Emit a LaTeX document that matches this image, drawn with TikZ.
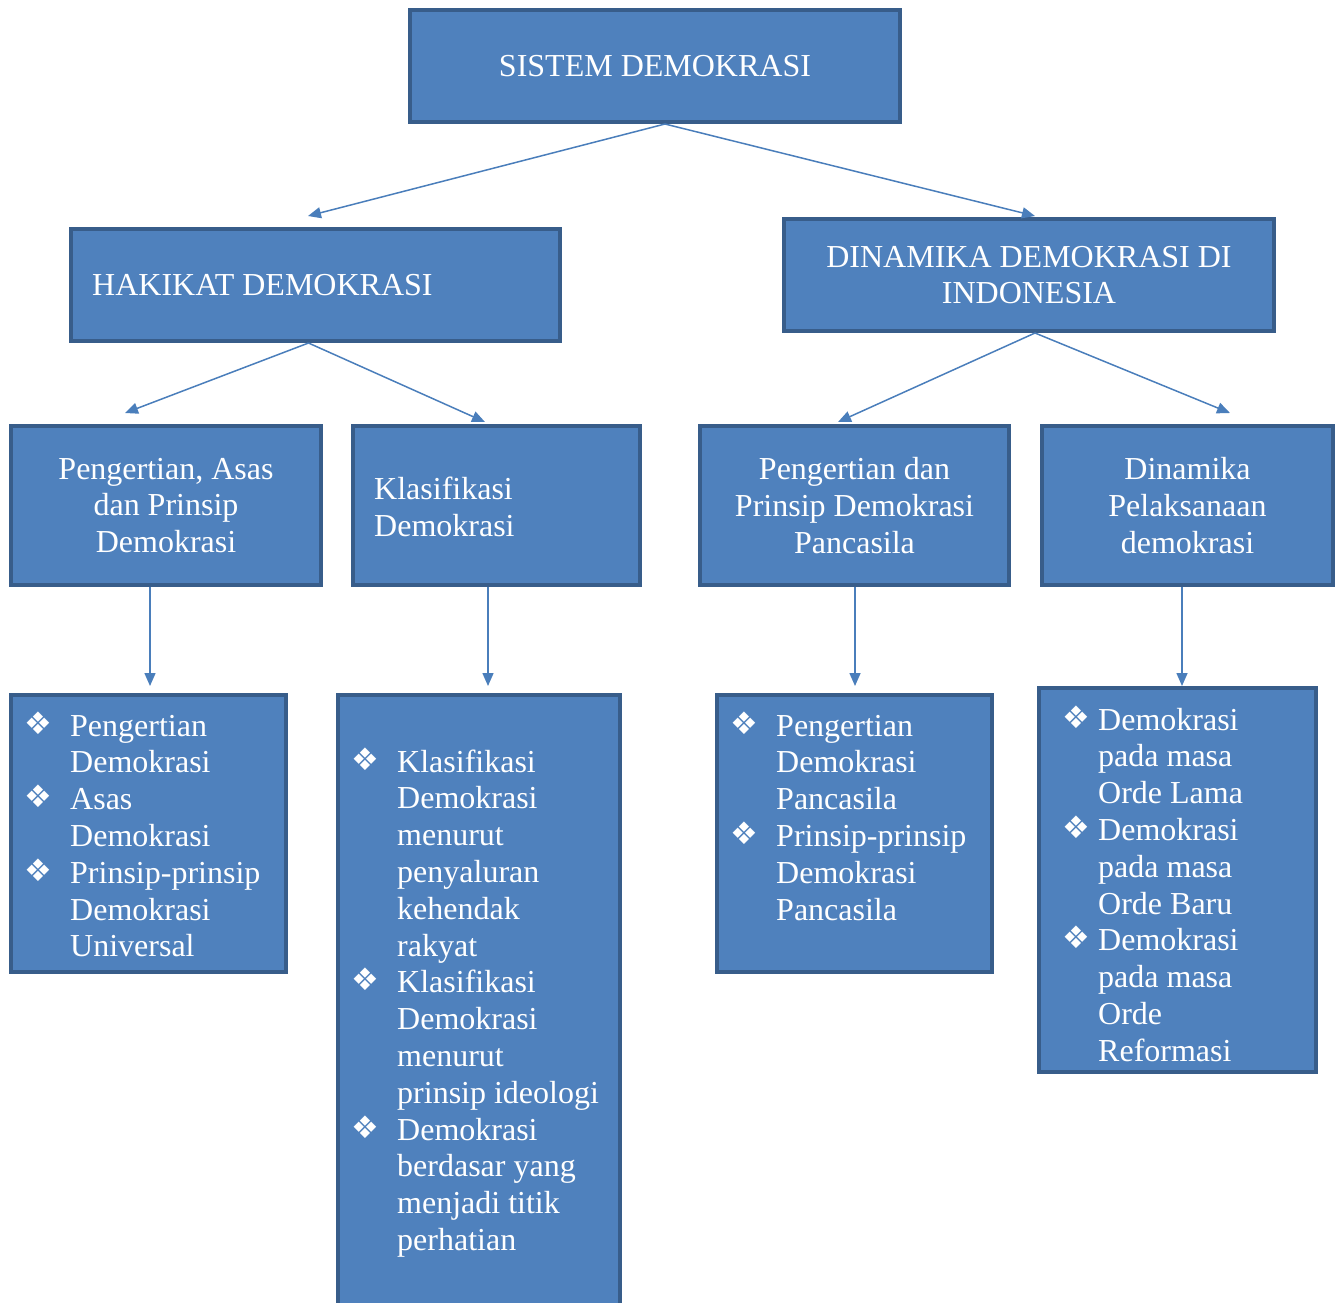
\documentclass[tikz,border=0pt]{standalone}
\usepackage{fontspec}
\setmainfont{Liberation Serif}
\newfontfamily\bulf{DejaVu Sans}
\usetikzlibrary{arrows.meta,calc}
\definecolor{boxc}{HTML}{4F81BD}
\definecolor{bordc}{HTML}{385D8A}
\definecolor{arrc}{HTML}{4A7EBB}
\newcommand\txtsz{\fontsize{32}{36.8}\selectfont}
\newcommand\bul{\raisebox{2pt}{\bulf\fontsize{31}{31}\selectfont ❖}}
\begin{document}
\begin{tikzpicture}[x=1pt,y=-1pt,
 box/.style={draw=bordc, fill=boxc, line width=3.8pt, inner sep=0pt, text=white, font=\txtsz, align=center},
 arr/.style={draw=arrc, line width=1.5pt, -{Triangle[length=13pt,width=11pt]}},
 lt/.style={text=white, font=\txtsz, inner sep=0pt, anchor=base west},
 bl/.style={text=white, inner sep=0pt, anchor=base west}]
\useasboundingbox (0,0) rectangle (1341,1302);
\clip (0,0) rectangle (1341,1302);

% level 0
\node[box, minimum width=490.2pt, minimum height=112.2pt] (top) at (655,66) {SISTEM DEMOKRASI};
% level 1
\node[box, minimum width=489.2pt, minimum height=112.2pt] (hak) at (315.5,285) {};
\node[text=white, font=\txtsz, inner sep=0pt, anchor=west] (hakt) at (92,285) {HAKIKAT DEMOKRASI};
\node[box, minimum width=490.2pt, minimum height=112.2pt] (din) at (1029,275) {DINAMIKA DEMOKRASI DI\\INDONESIA};
% level 2
\node[box, minimum width=310.2pt, minimum height=159.2pt] (p1) at (166,505.5) {Pengertian, Asas\\dan Prinsip\\Demokrasi};
\node[box, minimum width=287.2pt, minimum height=159.2pt] (p2) at (496.5,505.5) {};
\node[text=white, font=\txtsz, inner sep=0pt, anchor=west, align=left] (p2t) at (374,507) {Klasifikasi\\Demokrasi};
\node[box, minimum width=309.2pt, minimum height=159.2pt] (p3) at (854.5,505.5) {Pengertian dan\\Prinsip Demokrasi\\Pancasila};
\node[box, minimum width=291.2pt, minimum height=159.2pt] (p4) at (1187.5,505.5) {Dinamika\\Pelaksanaan\\demokrasi};
% level 3 boxes
\node[box, minimum width=275.2pt, minimum height=277.2pt] (l1) at (148.5,833.5) {};
\node[box, minimum width=282.2pt, minimum height=623.2pt] (l2) at (479,1006.5) {};
\node[box, minimum width=275.2pt, minimum height=277.2pt] (l3) at (854.5,833.5) {};
\node[box, minimum width=277.2pt, minimum height=384.2pt] (l4) at (1177.5,880) {};

% list texts
\foreach \t [count=\i from 0] in {Pengertian,Demokrasi,Asas,Demokrasi,Prinsip-prinsip,Demokrasi,Universal}
  \node[lt] (l1t\i) at (70,{736+36.8*\i}) {\t};
\foreach \k in {0,2,4}
  \node[bl] (l1b\k) at (24,{736+36.8*\k}) {\bul};

\foreach \t [count=\i from 0] in {Klasifikasi,Demokrasi,menurut,penyaluran,kehendak,rakyat,Klasifikasi,Demokrasi,menurut,prinsip ideologi,Demokrasi,berdasar yang,menjadi titik,perhatian}
  \node[lt] (l2t\i) at (397,{772+36.8*\i}) {\t};
\foreach \k in {0,6,10}
  \node[bl] (l2b\k) at (351,{772+36.8*\k}) {\bul};

\foreach \t [count=\i from 0] in {Pengertian,Demokrasi,Pancasila,Prinsip-prinsip,Demokrasi,Pancasila}
  \node[lt] (l3t\i) at (776,{736+36.8*\i}) {\t};
\foreach \k in {0,3}
  \node[bl] (l3b\k) at (730,{736+36.8*\k}) {\bul};

\foreach \t [count=\i from 0] in {Demokrasi,pada masa,Orde Lama,Demokrasi,pada masa,Orde Baru,Demokrasi,pada masa,Orde,Reformasi}
  \node[lt] (l4t\i) at (1098,{730+36.8*\i}) {\t};
\foreach \k in {0,3,6}
  \node[bl] (l4b\k) at (1062,{730+36.8*\k}) {\bul};

% arrow end points
\coordinate (a1) at (308,216);
\coordinate (a2) at (1035,216);
\coordinate (a3) at (125,413);
\coordinate (a4) at (485,422);
\coordinate (a5) at (838,422);
\coordinate (a6) at (1230,413);
\coordinate (a7) at (150,686);
\coordinate (a8) at (488,686);
\coordinate (a9) at (855,686);
\coordinate (a10) at (1182,686);

\draw[arr] ($(top.south)+(10,0)$) -- (a1);
\draw[arr] ($(top.south)+(10,0)$) -- (a2);
\draw[arr] ($(hak.south)+(-7,0)$) -- (a3);
\draw[arr] ($(hak.south)+(-7,0)$) -- (a4);
\draw[arr] ($(din.south)+(6,0)$) -- (a5);
\draw[arr] ($(din.south)+(6,0)$) -- (a6);
\draw[arr] ($(p1.south)+(-16,0)$) -- (a7);
\draw[arr] ($(p2.south)+(-8.5,0)$) -- (a8);
\draw[arr] ($(p3.south)+(0.5,0)$) -- (a9);
\draw[arr] ($(p4.south)+(-5.5,0)$) -- (a10);
\end{tikzpicture}
\end{document}
